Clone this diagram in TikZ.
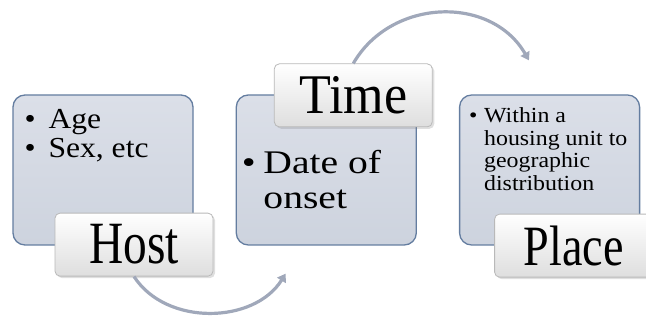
\documentclass[tikz,border=0pt]{standalone}
\usepackage{fontspec}
\setmainfont{Liberation Serif}
\usetikzlibrary{arrows.meta, positioning, shadows}

\definecolor{boxtop}{RGB}{219,223,232}
\definecolor{boxbottom}{RGB}{205,211,222}
\definecolor{boxedge}{RGB}{100,125,160}
\definecolor{tagedge}{RGB}{185,185,185}
\definecolor{tagbottom}{RGB}{222,222,222}
\definecolor{flowline}{RGB}{160,168,186}

\newcommand{\bul}[1]{\makebox[#1][l]{\textbullet}}

\begin{document}
\begin{tikzpicture}[
x=1pt, y=1pt,
node distance=42pt,
infobox/.style={draw=boxedge, line width=1.3pt, rounded corners=12pt,
  top color=boxtop, bottom color=boxbottom,
  minimum width=180pt, minimum height=150pt, inner sep=0pt},
tag/.style={draw=tagedge, line width=0.8pt, rounded corners=5pt,
  top color=white, bottom color=tagbottom,
  drop shadow={opacity=0.25, shadow xshift=2pt, shadow yshift=-2pt},
  minimum width=158pt, minimum height=63pt, inner sep=0pt},
tagtext/.style={inner sep=0pt, transform shape, xscale=#1},
bullets/.style={anchor=north west, inner sep=0pt, align=left,
  transform shape, xscale=#1},
flow/.style={-{Triangle[length=8pt, width=10pt]}, line width=3.2pt, flowline}
]
\useasboundingbox (0,0) rectangle (646,323);

% the three panels
\node[infobox] (hostbox) at (103,153) {};
\node[infobox, right=of hostbox] (timebox) {};
\node[infobox, right=of timebox] (placebox) {};

% panel texts
\node[bullets=1.09, font=\fontsize{29}{29}\selectfont]
  (hosttext) at ([xshift=12pt, yshift=-15pt]hostbox.north west)
  {\bul{22pt}Age\\\bul{22pt}Sex, etc};
\node[bullets=1.2, font=\fontsize{33}{35}\selectfont]
  (timetext) at ([xshift=6pt, yshift=-56pt]timebox.north west)
  {\bul{18pt}Date of\\\hspace*{18pt}onset};
\node[bullets=1.11, font=\fontsize{21.5}{22.7}\selectfont]
  (placetext) at ([xshift=10pt, yshift=-13pt]placebox.north west)
  {\bul{13.5pt}Within a\\\hspace*{13.5pt}housing unit to\\\hspace*{13.5pt}geographic\\\hspace*{13.5pt}distribution};

% arrows between the panels
\coordinate (timein) at ([xshift=50pt, yshift=-28pt]timebox.south west);
\coordinate (placein) at ([xshift=70pt, yshift=34pt]placebox.north west);

% title tags
\node[tag] (host) at ([xshift=31pt, yshift=1pt]hostbox.south) {};
\node[tag] (time) at ([xshift=27pt, yshift=-1pt]timebox.north) {};
\node[tag] (place) at ([xshift=24pt, yshift=0pt]placebox.south) {};
\node[tagtext=0.79, font=\fontsize{60}{60}\selectfont] (hostlabel) at (host) {Host};
\node[tagtext=0.93, font=\fontsize{56}{56}\selectfont] (timelabel) at (time) {Time};
\node[tagtext=0.81, font=\fontsize{57}{57}\selectfont] (placelabel) at (place) {Place};

\draw[flow] (host.south) to[out=-57, in=238] (timein);
\draw[flow] (time.north) to[out=60, in=120, looseness=1.1] (placein);

\end{tikzpicture}
\end{document}
